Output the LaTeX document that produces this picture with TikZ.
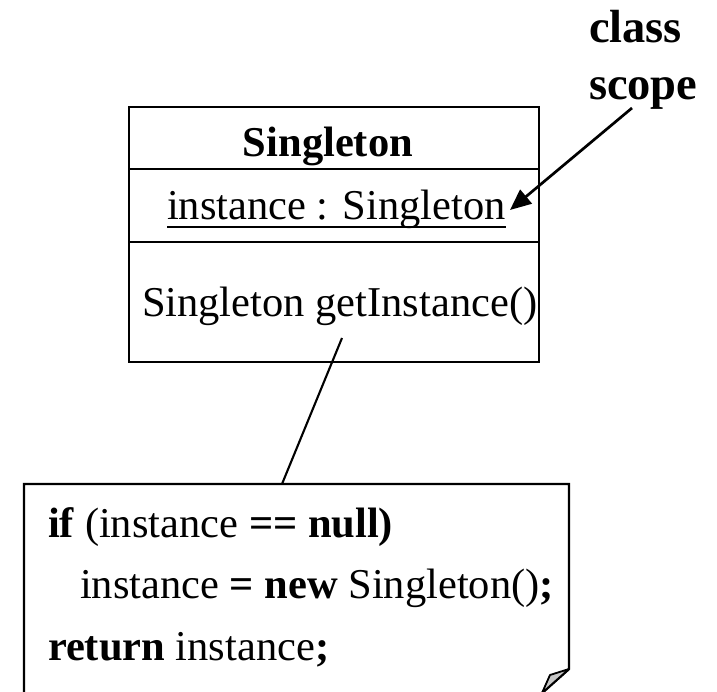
\documentclass[tikz,border=0pt]{standalone}
\usepackage{fontspec}
\setmainfont{Liberation Serif}
\usetikzlibrary{arrows.meta}
\begin{document}
\begin{tikzpicture}[x=1pt,y=-1pt,
  txt/.style={inner sep=0pt, outer sep=0pt, font=\fontsize{42.5}{50}\selectfont, anchor=base west},
  lbl/.style={inner sep=0pt, outer sep=0pt, font=\fontsize{46.5}{54}\selectfont\bfseries, anchor=base west},
  boxline/.style={line width=2.8pt},
  noteline/.style={line width=2.4pt},
  conn/.style={line width=2.1pt},
  pointer/.style={line width=2.7pt, -{Triangle[length=21pt,width=18pt]}}]
\useasboundingbox (0,0) rectangle (717,692);
\clip (0,0) rectangle (717,692);
% class box
\node[draw, boxline, anchor=north west, minimum width=410pt, minimum height=255pt,
      inner sep=0pt, outer sep=0pt] (cls) at (129,107) {};
\draw[boxline] (cls.west |- 0,169) -- (cls.east |- 0,169);
\draw[boxline] (cls.west |- 0,242) -- (cls.east |- 0,242);
\node[txt, anchor=base] (title) at (328,157) {\bfseries Singleton};
\node[txt] (attr) at (167,220) {instance : Singleton};
\draw[line width=2.6pt] ([yshift=-7pt]attr.base west) -- ([yshift=-7pt]attr.base east);
\node[txt] (meth) at (142,317) {Singleton getInstance()};
% note
\draw[noteline, fill=white] (24,484) coordinate (nTL) -- (569,484) coordinate (nTR)
  -- (569,669) coordinate (nF) -- (541,694) coordinate (nCut) -- (24,694) coordinate (nBL) -- cycle;
\filldraw[fill=black!22, draw=black, line width=1.8pt, line join=round]
  (nF) -- (550,675) coordinate (nFlap) -- (542,693) -- cycle;
\node[txt] (l1) at (48,537) {\textbf{if} (instance \textbf{== null)}};
\node[txt] (l2) at (80,598) {instance \textbf{= new} Singleton()\textbf{;}};
\node[txt] (l3) at (48,660) {\textbf{return} instance\textbf{;}};
% connector from method to note
\coordinate (mref) at (342,338);
\coordinate (ntop) at (282,484);
\draw[conn] (mref) -- (ntop);
% class scope label
\node[lbl] (cl) at (589,43) {class};
\node[lbl] (sc) at (589,100) {scope};
\coordinate (scfoot) at (632,108);
\coordinate (attrtip) at (510,210);
\draw[pointer] (scfoot) -- (attrtip);
\end{tikzpicture}
\end{document}
